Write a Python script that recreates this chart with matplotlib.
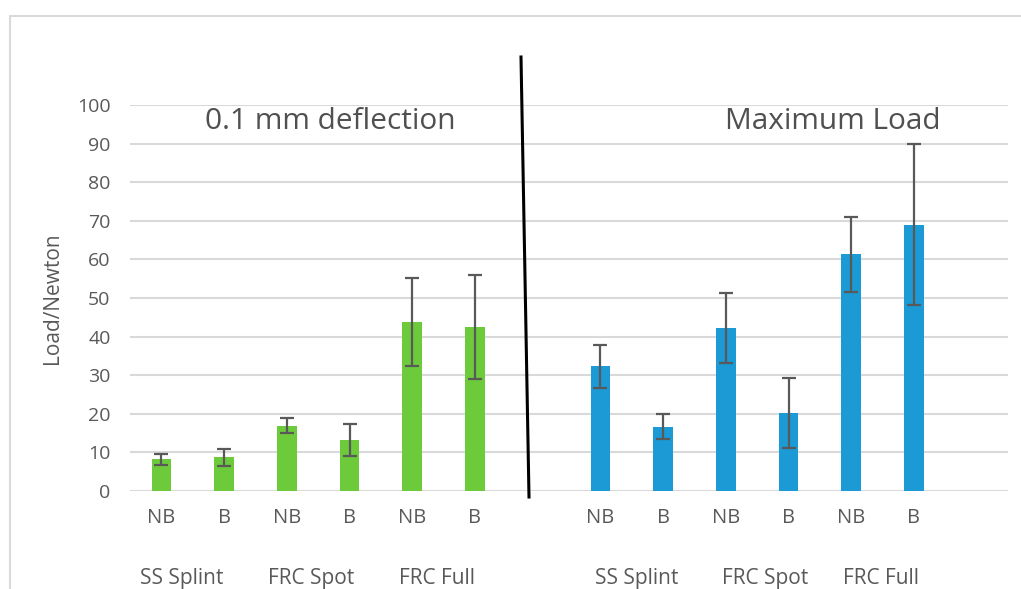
import matplotlib
matplotlib.use("Agg")
import matplotlib.pyplot as plt
from matplotlib.lines import Line2D
from matplotlib.patches import Rectangle

# ---- data ----
bar_labels = ["NB", "B", "NB", "B", "NB", "B"]
groups = ["SS Splint", "FRC Spot", "FRC Full"]
deflection_mean = [8.2, 8.7, 16.9, 13.2, 43.7, 42.5]
deflection_err = [1.5, 2.1, 2.0, 4.1, 11.4, 13.5]
maxload_mean = [32.3, 16.7, 42.2, 20.3, 61.3, 69.0]
maxload_err = [5.6, 3.3, 9.0, 9.1, 9.7, 20.9]
y_ticks = [0, 10, 20, 30, 40, 50, 60, 70, 80, 90, 100]

plt.rcParams['font.family'] = ['Open Sans', 'DejaVu Sans']
TXT = '#595959'

fig = plt.figure(figsize=(10.21, 5.89), dpi=100)
W, H = 1021, 589
ax = fig.add_axes([130 / W, 1 - 491 / H, (1008 - 130) / W, (491 - 105) / H])

left_x = list(range(0, 6))
right_x = list(range(7, 13))

err_kw = dict(ecolor='#595959', elinewidth=1.6, capsize=5, capthick=1.6)
ax.bar(left_x, deflection_mean, width=0.31, color='#6DCB3B', yerr=deflection_err,
       error_kw=err_kw, zorder=3)
ax.bar(right_x, maxload_mean, width=0.31, color='#1B9AD6', yerr=maxload_err,
       error_kw=err_kw, zorder=3)

ax.set_xlim(-0.5, 13.5)
ax.set_ylim(0, 100)
ax.set_yticks(y_ticks)
ax.set_yticklabels([str(v) for v in y_ticks], fontsize=14, color=TXT)
ax.set_xticks(left_x + right_x)
ax.set_xticklabels(bar_labels + bar_labels, fontsize=14.5, color=TXT)
ax.tick_params(axis='y', length=0, pad=14)
ax.tick_params(axis='x', length=0, pad=12)
ax.yaxis.grid(True, color='#d9d9d9', linewidth=1.5, zorder=0)
ax.set_axisbelow(True)
for s in ax.spines.values():
    s.set_visible(False)

ax.set_ylabel('Load/Newton', fontsize=15, color=TXT, labelpad=10)

# group labels
group_pos = [0.33, 2.39, 4.40, 7.58, 9.63, 11.47]
for gx, g in zip(group_pos, groups + groups):
    ax.text(gx, -22.6, g, ha='center', va='center', fontsize=15, color=TXT,
            clip_on=False)

# section titles
ax.text(2.70, 95.6, '0.1 mm deflection', ha='center', va='center', fontsize=21.5,
        color='#505050', clip_on=False)
ax.text(10.70, 95.6, 'Maximum Load', ha='center', va='center', fontsize=21.5,
        color='#505050', clip_on=False)

# divider line
fig.add_artist(Line2D([521 / W, 529 / W], [1 - 57 / H, 1 - 497 / H], color='black',
                      linewidth=2.2))

# outer chart border
fig.add_artist(Rectangle((10 / W, -0.05), 1.1, 1.05 - 16 / H, fill=False,
                         edgecolor='#d9d9d9', linewidth=1.5))

fig.savefig('out.png', dpi=100, facecolor='white')
